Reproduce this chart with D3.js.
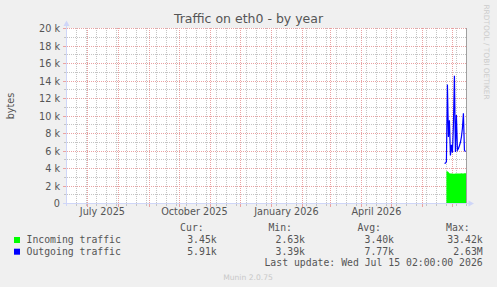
<!DOCTYPE html>
<html>
<head>
<meta charset="utf-8">
<script src="https://cdn.jsdelivr.net/npm/d3@7"></script>
<style>
    body { margin: 0; background: #f0f0f0; }
    svg text { font-family: "DejaVu Sans", sans-serif; }
    .mono { font-family: "DejaVu Sans Mono", monospace !important; }
</style>
</head>
<body>
<div id="chart"></div>
<script>

// values are in bytes, one point per day (year graph)
const outDates = ["2026-06-23", "2026-06-24", "2026-06-25", "2026-06-26", "2026-06-27", "2026-06-28",
    "2026-06-29", "2026-06-30", "2026-07-01", "2026-07-02", "2026-07-03", "2026-07-04", "2026-07-05",
    "2026-07-06", "2026-07-07", "2026-07-08", "2026-07-09", "2026-07-10", "2026-07-11", "2026-07-12",
    "2026-07-13", "2026-07-14"];
const outValues = [4600, 4600, 4800, 13600, 7600, 9500, 5500, 6700, 5800, 9000, 14600, 5900, 10100,
    6100, 6300, 6600, 7000, 7600, 8600, 10300, 6100, 5910];

const inDates = ["2026-06-25", "2026-06-26", "2026-06-27", "2026-06-28", "2026-06-29", "2026-06-30",
    "2026-07-01", "2026-07-02", "2026-07-03", "2026-07-04", "2026-07-05", "2026-07-06", "2026-07-07",
    "2026-07-08", "2026-07-09", "2026-07-10", "2026-07-11", "2026-07-12", "2026-07-13", "2026-07-14",
    "2026-07-15"];
const inValues = [3700, 3700, 3600, 3450, 3430, 3420, 3440, 3400, 3410, 3430, 3420, 3440, 3430, 3420,
    3440, 3450, 3440, 3430, 3450, 3450, 3450];

const yTicks = [0, 2000, 4000, 6000, 8000, 10000, 12000, 14000, 16000, 18000, 20000];
const yTickLabels = ["0", "2 k", "4 k", "6 k", "8 k", "10 k", "12 k", "14 k", "16 k", "18 k", "20 k"];
const xLabelDates = ["2025-07-01", "2025-10-01", "2026-01-01", "2026-04-01"];
const xTickLabels = ["July 2025", "October 2025", "January 2026", "April 2026"];

const seriesNames = ["Incoming traffic", "Outgoing traffic"];
const seriesColors = ["#00ff00", "#0000ff"];
const curValues = ["3.45k", "5.91k"];
const minValues = ["2.63k", "3.39k"];
const avgValues = ["3.40k", "7.77k"];
const maxValues = ["33.42k", "2.63M"];

const endTime = "2026-07-15 02:00";


class TrafficChart {

    constructor(parentElement) {
        this.parentElement = parentElement;
        this.initVis();
    }

    /*
     *  scales, background, grid
     */
    initVis() {
        let vis = this;

        vis.width = 497;
        vis.height = 287;

        vis.svg = d3.select("#" + vis.parentElement).append("svg")
            .attr("width", vis.width)
            .attr("height", vis.height);

        vis.svg.append("rect")
            .attr("width", vis.width)
            .attr("height", vis.height)
            .attr("fill", "#f0f0f0");

        vis.parseDay = d3.timeParse("%Y-%m-%d");
        let end = d3.timeParse("%Y-%m-%d %H:%M")(endTime);
        let start = d3.timeDay.offset(end, -400);
        vis.start = start;
        vis.end = end;

        vis.x = d3.scaleTime()
            .domain([start, end])
            .range([66.5, 466.5]);

        vis.y = d3.scaleLinear()
            .domain([0, 20000])
            .range([203.5, 28.5]);

        // snap to pixel centres so the dotted lines stay crisp
        vis.px = v => Math.round(vis.x(v)) + 0.5;
        vis.py = v => Math.floor(vis.y(v)) + 0.5;

        // canvas
        vis.svg.append("rect")
            .attr("x", 67).attr("y", 28)
            .attr("width", 400).attr("height", 176)
            .attr("fill", "#ffffff");

        vis.grid = vis.svg.append("g");
        vis.drawGrid();

        vis.updateVis();
    }

    drawGrid() {
        let vis = this;
        let minorCol = "#c4c4c4";
        let majorCol = "#eaa2a2";

        // minor vertical lines every 10 days, major at each month
        let minorT = d3.timeDay.range(d3.timeDay.floor(vis.start), vis.end, 10)
            .filter(t => t > vis.start);
        let majorT = d3.timeMonth.range(vis.start, vis.end);
        let minorY = d3.range(1000, 20000, 2000);

        vis.grid.selectAll(".vminor").data(minorT).enter().append("line")
            .attr("x1", d => vis.px(d)).attr("x2", d => vis.px(d))
            .attr("y1", 28).attr("y2", 203)
            .attr("stroke", minorCol).attr("stroke-dasharray", "1,1");
        vis.grid.selectAll(".vminortick").data(minorT).enter().append("line")
            .attr("x1", d => vis.px(d)).attr("x2", d => vis.px(d))
            .attr("y1", 203).attr("y2", 206)
            .attr("stroke", minorCol);

        vis.grid.selectAll(".hminor").data(minorY).enter().append("line")
            .attr("x1", 67).attr("x2", 467)
            .attr("y1", d => vis.py(d)).attr("y2", d => vis.py(d))
            .attr("stroke", minorCol).attr("stroke-dasharray", "1,1");
        vis.grid.selectAll(".hminortick").data(minorY).enter().append("line")
            .attr("x1", 64).attr("x2", 67)
            .attr("y1", d => vis.py(d)).attr("y2", d => vis.py(d))
            .attr("stroke", minorCol);

        vis.grid.selectAll(".vmajor").data(majorT).enter().append("line")
            .attr("x1", d => vis.px(d)).attr("x2", d => vis.px(d))
            .attr("y1", 28).attr("y2", 203)
            .attr("stroke", majorCol).attr("stroke-dasharray", "1,1");
        vis.grid.selectAll(".vmajortick").data(majorT).enter().append("line")
            .attr("x1", d => vis.px(d)).attr("x2", d => vis.px(d))
            .attr("y1", 203).attr("y2", 207)
            .attr("stroke", majorCol);

        vis.grid.selectAll(".hmajor").data(yTicks.slice(1)).enter().append("line")
            .attr("x1", 67).attr("x2", 467)
            .attr("y1", d => vis.py(d)).attr("y2", d => vis.py(d))
            .attr("stroke", majorCol).attr("stroke-dasharray", "1,1");
        vis.grid.selectAll(".hmajortick").data(yTicks.slice(1)).enter().append("line")
            .attr("x1", 63).attr("x2", 67)
            .attr("y1", d => vis.py(d)).attr("y2", d => vis.py(d))
            .attr("stroke", majorCol);

        // y labels
        vis.svg.selectAll(".ylab").data(yTicks).enter().append("text")
            .attr("x", 60)
            .attr("y", d => vis.py(d) + 3.5)
            .attr("text-anchor", "end")
            .attr("font-size", "9.7px")
            .attr("fill", "#555")
            .text((d, i) => yTickLabels[i]);

        // x labels, centred half a month after the month start
        vis.svg.selectAll(".xlab").data(xLabelDates).enter().append("text")
            .attr("x", d => vis.x(d3.timeDay.offset(vis.parseDay(d), 15)))
            .attr("y", 214.5)
            .attr("text-anchor", "middle")
            .attr("font-size", "9.7px")
            .attr("fill", "#555")
            .text((d, i) => xTickLabels[i]);
    }

    updateVis() {
        let vis = this;

        let inData = inDates.map((d, i) => ({t: vis.parseDay(d), v: inValues[i]}));
        let outData = outDates.map((d, i) => ({t: vis.parseDay(d), v: outValues[i]}));

        let area = d3.area()
            .x(d => vis.x(d.t))
            .y0(vis.y(0))
            .y1(d => vis.y(d.v));

        vis.svg.append("path")
            .datum(inData)
            .attr("d", area)
            .attr("fill", seriesColors[0]);

        let line = d3.line()
            .x(d => vis.x(d.t))
            .y(d => vis.y(d.v));

        vis.svg.append("path")
            .datum(outData)
            .attr("d", line)
            .attr("fill", "none")
            .attr("stroke", seriesColors[1])
            .attr("stroke-width", 1.2);

        // right edge
        vis.svg.append("line")
            .attr("x1", 466.5).attr("x2", 466.5)
            .attr("y1", 28).attr("y2", 203)
            .attr("stroke", "#a0a0a0");

        // axes with arrows
        let axisCol = "#cfd6f8";
        vis.svg.append("line")
            .attr("x1", 66.5).attr("x2", 66.5)
            .attr("y1", 206).attr("y2", 24)
            .attr("stroke", axisCol);
        vis.svg.append("path")
            .attr("d", "M63.5,26L69.5,26L66.5,20.5Z")
            .attr("fill", axisCol);
        vis.svg.append("line")
            .attr("x1", 63).attr("x2", 470)
            .attr("y1", 203.5).attr("y2", 203.5)
            .attr("stroke", axisCol);
        vis.svg.append("path")
            .attr("d", "M468.5,200.5L468.5,206.5L474,203.5Z")
            .attr("fill", axisCol);

        vis.drawText();
    }

    drawText() {
        let vis = this;

        vis.svg.append("text")
            .attr("x", 248.5).attr("y", 23)
            .attr("text-anchor", "middle")
            .attr("font-size", "12.5px")
            .attr("fill", "#555")
            .text("Traffic on eth0 - by year");

        vis.svg.append("text")
            .attr("transform", "translate(13.5,106) rotate(-90)")
            .attr("text-anchor", "middle")
            .attr("font-size", "9.7px")
            .attr("fill", "#555")
            .text("bytes");

        vis.svg.append("text")
            .attr("transform", "translate(484,52) rotate(90)")
            .attr("text-anchor", "middle")
            .attr("font-size", "7.4px")
            .attr("fill", "#cccccc")
            .text("RRDTOOL / TOBI OETIKER");

        // legend
        let cols = [216.7, 305, 394, 482.7];
        let heads = ["Cur:", "Min:", "Avg:", "Max:"];
        let stats = [curValues, minValues, avgValues, maxValues];
        let fs = "9.8px";

        heads.forEach((h, j) => {
            vis.svg.append("text").attr("class", "mono")
                .attr("x", cols[j] - 13).attr("y", 231)
                .attr("text-anchor", "end").attr("font-size", fs).attr("fill", "#555")
                .text(h);
        });

        seriesNames.forEach((name, i) => {
            let yb = 243 + i * 11.7;
            vis.svg.append("rect")
                .attr("x", 14).attr("y", yb - 6)
                .attr("width", 6).attr("height", 6)
                .attr("fill", seriesColors[i]);
            vis.svg.append("text").attr("class", "mono")
                .attr("x", 26.5).attr("y", yb)
                .attr("font-size", fs).attr("fill", "#555")
                .text(name);
            stats.forEach((s, j) => {
                vis.svg.append("text").attr("class", "mono")
                    .attr("x", cols[j]).attr("y", yb)
                    .attr("text-anchor", "end").attr("font-size", fs).attr("fill", "#555")
                    .text(s[i]);
            });
        });

        vis.svg.append("text").attr("class", "mono")
            .attr("x", 482.7).attr("y", 266)
            .attr("text-anchor", "end").attr("font-size", fs).attr("fill", "#555")
            .text("Last update: Wed Jul 15 02:00:00 2026");

        vis.svg.append("text")
            .attr("x", 248).attr("y", 279.5)
            .attr("text-anchor", "middle")
            .attr("font-size", "7.6px")
            .attr("fill", "#c8c8c8")
            .text("Munin 2.0.75");
    }
}

new TrafficChart("chart");
</script>
</body>
</html>
